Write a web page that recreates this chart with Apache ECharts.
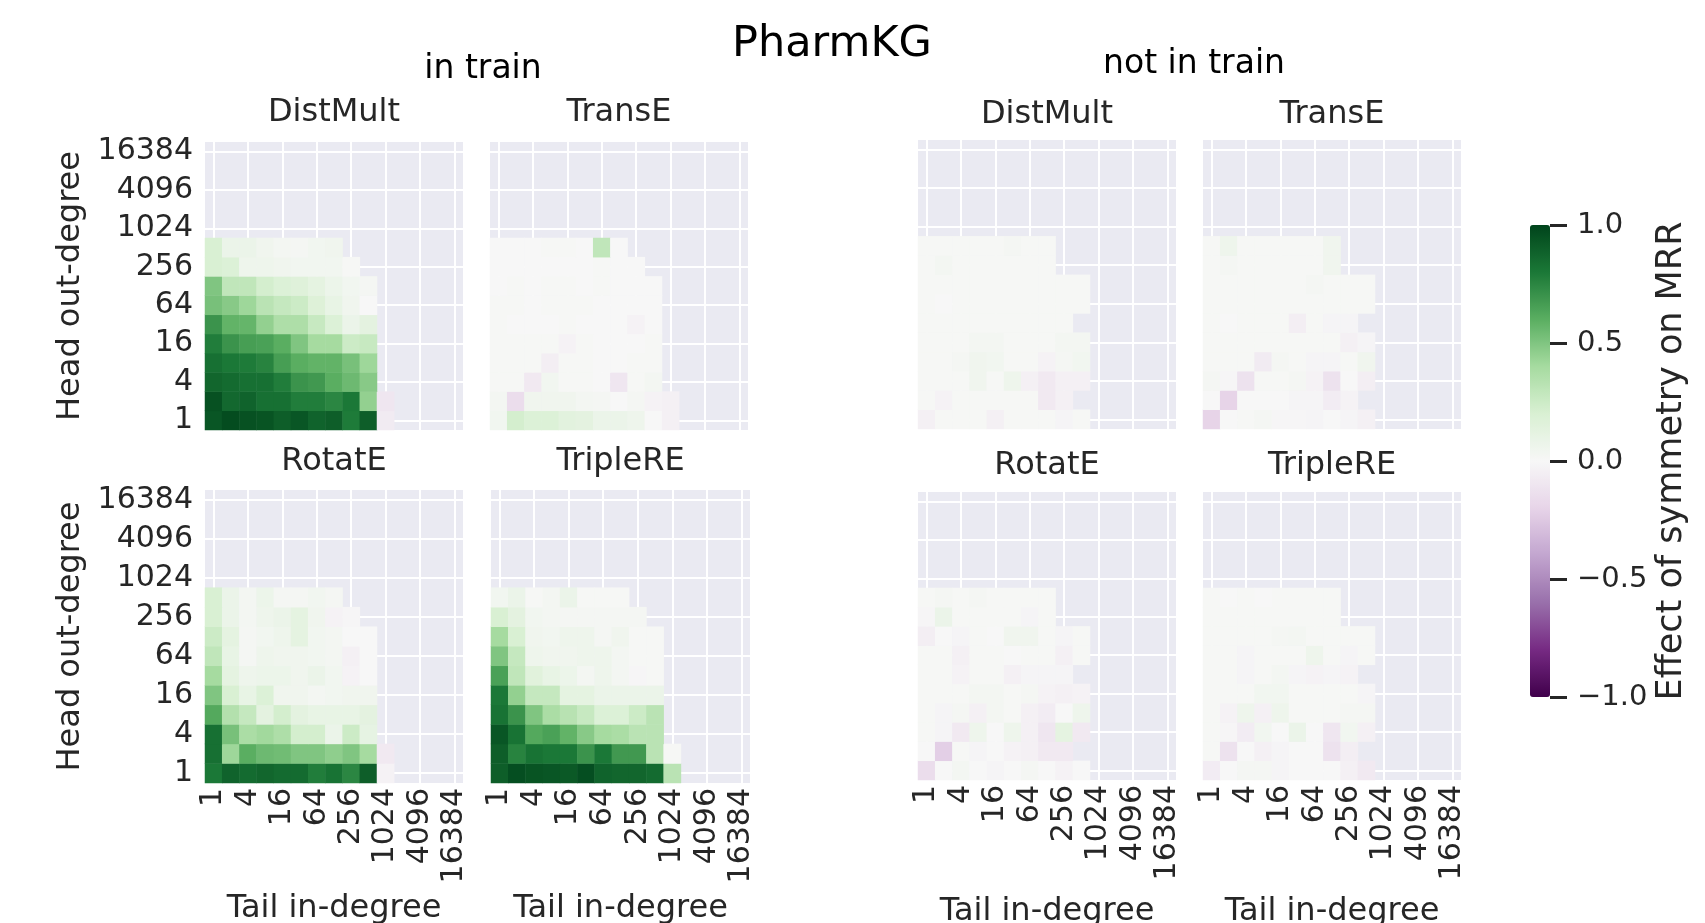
<!DOCTYPE html>
<html><head><meta charset="utf-8">
<script src="https://cdn.jsdelivr.net/npm/echarts@6/dist/echarts.min.js"></script>
<style>html,body{margin:0;padding:0;background:#fff}#c{width:1705px;height:923px}</style>
</head><body><div id="c"></div>
<script>
// ---------- data ----------
const degreeBins = ['1','2','4','8','16','32','64','128','256','512','1024','2048','4096','8192','16384'];
const modelNames = ['DistMult','TransE','RotatE','TripleRE'];
const groupNames = ['in train','not in train'];
const figureTitle = 'PharmKG';
const xAxisName = 'Tail in-degree';
const yAxisName = 'Head out-degree';
const colorbarName = 'Effect of symmetry on MRR';
const colorbarTicks = [-1, -0.5, 0, 0.5, 1];

// rows: head out-degree bin 0 (=1) upward; columns: tail in-degree bin 0 (=1) rightward; null = no data
const distmultIn = [
  [0.93,0.97,0.95,0.94,0.90,0.93,0.88,0.90,0.79,0.90,-0.07],
  [0.95,0.86,0.88,0.83,0.83,0.78,0.78,0.75,0.80,0.45,-0.10],
  [0.87,0.85,0.83,0.83,0.78,0.70,0.68,0.60,0.55,0.48,null],
  [0.83,0.80,0.79,0.76,0.66,0.60,0.58,0.58,0.52,0.42,null],
  [0.78,0.70,0.66,0.65,0.60,0.50,0.40,0.40,0.25,0.27,null],
  [0.70,0.58,0.57,0.45,0.37,0.37,0.27,0.18,0.08,0.13,null],
  [0.52,0.48,0.42,0.32,0.28,0.25,0.17,0.10,0.05,0.00,null],
  [0.50,0.30,0.30,0.22,0.18,0.16,0.12,0.07,0.04,0.02,null],
  [0.20,0.18,0.06,0.06,0.05,0.04,0.04,0.04,0.01,null,null],
  [0.20,0.08,0.08,0.05,0.03,0.02,0.04,0.05,null,null,null]
];
const transeIn = [
  [0.04,0.22,0.18,0.18,0.14,0.13,0.08,0.08,0.06,0.00,-0.04],
  [0.03,-0.15,0.05,0.05,0.05,0.03,0.02,0.00,0.02,-0.03,-0.04],
  [0.01,0.01,-0.08,0.04,0.01,0.01,0.00,-0.10,0.01,0.03,null],
  [0.01,0.01,0.01,-0.05,0.01,0.01,0.00,0.00,0.01,0.01,null],
  [0.01,0.01,0.01,0.01,-0.03,0.01,0.00,0.00,0.00,0.01,null],
  [0.01,0.00,0.00,0.00,0.01,0.00,0.00,0.00,-0.03,0.00,null],
  [0.01,0.01,0.00,0.01,0.01,0.01,0.00,0.00,0.00,0.00,null],
  [0.00,0.01,0.00,0.01,0.01,0.00,0.01,0.00,0.00,0.00,null],
  [0.00,0.00,0.00,0.00,0.00,0.00,0.01,0.00,0.00,null,null],
  [0.00,0.00,0.00,0.01,0.01,0.00,0.30,0.00,null,null,null]
];
const rotateIn = [
  [0.80,0.88,0.85,0.87,0.85,0.85,0.78,0.82,0.75,0.90,-0.03],
  [0.83,0.42,0.60,0.55,0.54,0.50,0.50,0.46,0.50,0.40,-0.08],
  [0.83,0.52,0.38,0.41,0.37,0.22,0.22,0.08,0.25,0.11,null],
  [0.62,0.35,0.28,0.13,0.22,0.13,0.10,0.10,0.10,0.13,null],
  [0.50,0.20,0.10,0.18,0.05,0.05,0.03,0.04,0.05,0.05,null],
  [0.40,0.12,0.06,0.07,0.07,0.05,0.08,0.04,-0.03,0.00,null],
  [0.30,0.10,0.02,0.06,0.05,0.05,0.04,0.03,-0.04,0.00,null],
  [0.25,0.12,0.02,0.04,0.06,0.12,0.04,0.03,0.00,0.00,null],
  [0.20,0.08,0.03,0.06,0.08,0.12,0.05,-0.03,-0.01,null,null],
  [0.20,0.08,0.03,0.07,0.02,0.02,0.04,0.02,null,null,null]
];
const tripleIn = [
  [0.90,0.96,0.94,0.93,0.92,0.96,0.88,0.87,0.87,0.85,0.32],
  [0.90,0.76,0.82,0.80,0.80,0.70,0.80,0.68,0.68,0.32,0.01],
  [0.93,0.82,0.62,0.65,0.58,0.48,0.40,0.38,0.32,0.32,null],
  [0.82,0.70,0.50,0.38,0.33,0.27,0.18,0.18,0.25,0.32,null],
  [0.80,0.45,0.28,0.28,0.12,0.12,0.08,0.08,0.08,0.08,null],
  [0.65,0.30,0.15,0.10,0.07,0.03,0.06,0.03,-0.01,0.01,null],
  [0.50,0.28,0.06,0.05,0.05,0.06,0.06,0.03,0.01,0.01,null],
  [0.40,0.20,0.05,0.04,0.06,0.06,0.02,0.05,0.01,0.01,null],
  [0.20,0.13,0.04,0.03,0.02,0.02,0.02,0.02,0.02,null,null],
  [0.04,0.08,0.01,0.03,0.08,0.01,0.01,0.01,null,null,null]
];
const distmultOut = [
  [-0.04,0.01,0.01,0.01,-0.04,0.01,0.01,0.01,-0.02,0.01,null],
  [0.01,-0.03,0.01,0.01,0.01,0.01,0.01,-0.08,-0.04,null,null],
  [0.01,0.01,0.01,0.05,0.01,0.06,-0.04,-0.08,-0.04,-0.04,null],
  [0.01,0.01,0.02,0.05,0.04,0.01,0.01,-0.03,0.02,0.04,null],
  [0.01,0.01,0.01,0.03,0.03,0.01,0.01,0.01,0.03,0.03,null],
  [0.01,0.01,0.01,0.01,0.01,0.01,0.01,0.01,0.01,null,null],
  [0.01,0.00,0.01,0.01,0.01,0.01,0.01,0.01,0.01,0.01,null],
  [0.01,0.01,0.01,0.01,0.01,0.01,0.01,0.01,0.01,0.01,null],
  [0.01,0.03,0.01,0.01,0.01,0.01,0.01,0.01,null,null,null],
  [0.01,0.01,0.01,0.01,0.01,0.02,0.01,0.01,null,null,null]
];
const transeOut = [
  [-0.20,0.00,0.01,0.02,-0.01,-0.01,-0.02,0.00,-0.02,-0.04,null],
  [0.00,-0.20,0.00,0.00,0.00,-0.02,-0.02,-0.06,-0.03,null,null],
  [0.02,-0.01,-0.12,0.01,0.01,0.02,-0.03,-0.12,0.00,-0.05,null],
  [0.01,0.01,0.01,-0.07,0.02,0.01,-0.02,-0.02,0.01,0.05,null],
  [0.01,0.01,0.01,0.01,0.01,0.01,0.01,0.01,-0.04,-0.02,null],
  [0.01,0.00,0.01,0.01,0.01,-0.05,0.01,-0.02,-0.02,null,null],
  [0.01,0.01,0.01,0.01,0.01,0.01,0.01,0.01,0.01,0.01,null],
  [0.01,0.01,0.01,0.01,0.01,0.01,0.02,0.01,0.01,0.01,null],
  [0.01,0.02,0.01,0.01,0.01,0.01,0.01,0.05,null,null,null],
  [0.01,0.06,0.01,0.01,0.01,0.01,0.01,0.05,null,null,null]
];
const rotateOut = [
  [-0.15,0.00,0.03,0.00,-0.02,0.00,0.02,0.00,-0.03,0.00,null],
  [0.00,-0.22,0.01,-0.02,0.00,-0.03,-0.04,-0.08,-0.08,null,null],
  [0.01,-0.02,-0.08,0.06,0.00,0.06,-0.04,-0.10,0.12,-0.08,null],
  [0.01,-0.02,0.02,-0.04,0.03,0.01,-0.04,-0.06,0.00,0.06,null],
  [0.01,0.01,0.01,0.03,0.03,0.01,0.02,-0.03,-0.04,-0.03,null],
  [0.01,0.01,-0.03,0.01,0.01,-0.04,-0.02,-0.02,-0.02,null,null],
  [0.01,0.01,-0.04,0.01,0.01,0.00,0.01,0.01,-0.04,0.01,null],
  [-0.05,0.00,-0.02,0.01,0.00,0.05,0.05,0.01,-0.02,0.01,null],
  [-0.01,0.08,0.01,0.01,0.01,0.01,-0.02,0.01,null,null,null],
  [0.01,0.02,0.01,0.02,0.01,0.01,0.01,0.01,null,null,null]
];
const tripleOut = [
  [-0.06,0.00,0.02,0.02,-0.02,0.00,0.00,0.00,-0.04,-0.08,null],
  [0.01,-0.12,0.00,-0.04,-0.02,0.00,0.00,-0.12,-0.05,null,null],
  [0.01,-0.01,-0.06,0.04,0.00,0.08,0.00,-0.10,0.04,-0.04,null],
  [0.01,-0.03,0.06,-0.04,0.06,0.01,0.01,0.01,0.02,0.02,null],
  [0.01,0.01,0.01,0.04,0.04,0.01,0.01,0.01,0.01,-0.02,null],
  [0.01,0.01,-0.02,0.01,0.03,-0.02,-0.03,-0.02,-0.03,null,null],
  [0.01,0.01,-0.02,0.01,0.01,0.01,0.06,0.01,-0.02,0.01,null],
  [0.01,0.01,0.01,0.01,0.02,0.03,0.01,0.01,0.01,0.01,null],
  [0.01,0.01,0.01,0.01,0.01,0.01,0.01,0.01,null,null,null],
  [0.01,0.00,0.01,0.00,0.01,0.01,0.01,0.01,null,null,null]
];

// ---------- styling / layout ----------
const PRGn = ['#40004b','#762a83','#9970ab','#c2a5cf','#e7d4e8','#f7f7f7','#d9f0d3','#a6dba0','#5aae61','#1b7837','#00441b'];
const FONT = 'DejaVu Sans';
const TXT = '#262626';
const panels = [
  {m: distmultIn,  t: 0, left: 205,  top: 142, w: 258, h: 288, yl: true,  xl: false, ty: 113, ny: 0},
  {m: transeIn,    t: 1, left: 490,  top: 142, w: 258, h: 288, yl: false, xl: false, ty: 113, ny: 0},
  {m: rotateIn,    t: 2, left: 205,  top: 490, w: 258, h: 293, yl: true,  xl: true,  ty: 462, ny: 893},
  {m: tripleIn,    t: 3, left: 491,  top: 490, w: 259, h: 293, yl: false, xl: true,  ty: 462, ny: 893},
  {m: distmultOut, t: 0, left: 918,  top: 140, w: 258, h: 289, yl: false, xl: false, ty: 115, ny: 0},
  {m: transeOut,   t: 1, left: 1203, top: 140, w: 258, h: 289, yl: false, xl: false, ty: 115, ny: 0},
  {m: rotateOut,   t: 2, left: 918,  top: 492, w: 258, h: 288, yl: false, xl: true,  ty: 466, ny: 896},
  {m: tripleOut,   t: 3, left: 1203, top: 492, w: 258, h: 288, yl: false, xl: true,  ty: 466, ny: 896}
];
const cb = {left: 1530, top: 225, w: 20, h: 472};

function cells(matrix) {
  const out = [];
  matrix.forEach((row, r) => row.forEach((v, c) => { if (v !== null) out.push([c, r, v]); }));
  return out;
}

const grid = [], xAxis = [], yAxis = [], series = [], graphic = [];
panels.forEach((p, i) => {
  grid.push({left: p.left, top: p.top, width: p.w, height: p.h, show: true,
    backgroundColor: '#eaeaf2', borderWidth: 0, containLabel: false, outerBoundsMode: 'none'});
  const split = {show: true, interval: 1, alignWithLabel: true, lineStyle: {color: '#ffffff', width: 2}};
  xAxis.push({gridIndex: i, type: 'category', data: degreeBins, boundaryGap: true,
    axisLine: {show: false}, axisTick: {show: false, alignWithLabel: true},
    axisLabel: {show: p.xl, interval: 1, rotate: 90, fontSize: 30, color: TXT, fontFamily: FONT, margin: 5},
    splitLine: split,
    name: p.xl ? xAxisName : '', nameLocation: 'middle', nameGap: p.xl ? p.ny - (p.top + p.h) : 0,
    nameTextStyle: {fontSize: 32, color: TXT, fontFamily: FONT}});
  yAxis.push({gridIndex: i, type: 'category', data: degreeBins, boundaryGap: true,
    axisLine: {show: false}, axisTick: {show: false, alignWithLabel: true},
    axisLabel: {show: p.yl, interval: 1, fontSize: 30, color: TXT, fontFamily: FONT, margin: 12, padding: [0, 0, 8, 0]},
    splitLine: split,
    name: p.yl ? yAxisName : '', nameLocation: 'middle', nameGap: 118,
    nameTextStyle: {fontSize: 32, color: TXT, fontFamily: FONT}});
  series.push({type: 'heatmap', xAxisIndex: i, yAxisIndex: i, data: cells(p.m),
    itemStyle: {borderWidth: 0}, emphasis: {disabled: true}, progressive: 0, silent: true});
  graphic.push({type: 'text', x: p.left + p.w / 2, y: p.ty,
    style: {text: modelNames[p.t], fontSize: 32, fontFamily: FONT, fill: TXT, align: 'center', verticalAlign: 'middle'}});
});

// colorbar axis (ticks + labels next to the visualMap gradient)
grid.push({left: cb.left, top: cb.top, width: cb.w, height: cb.h, show: false, outerBoundsMode: 'none', z: 10});
xAxis.push({gridIndex: 8, type: 'value', show: false, min: 0, max: 1});
yAxis.push({gridIndex: 8, type: 'value', position: 'right', z: 10,
  min: colorbarTicks[0], max: colorbarTicks[colorbarTicks.length - 1], interval: 0.5,
  axisLine: {show: true, onZero: false, lineStyle: {color: 'rgba(0,0,0,0)', width: 0}}, splitLine: {show: false},
  axisTick: {show: true, inside: false, length: 17, lineStyle: {color: TXT, width: 3}},
  axisLabel: {fontSize: 29, color: TXT, fontFamily: FONT, margin: 27,
    formatter: v => (v < 0 ? '\u2212' : '') + Math.abs(v).toFixed(1)}});

graphic.push({type: 'text', x: 832, y: 45, style: {text: figureTitle, fontSize: 43, fontFamily: FONT, fill: '#000', align: 'center', verticalAlign: 'middle'}});
graphic.push({type: 'text', x: 483, y: 69, style: {text: groupNames[0], fontSize: 33, fontFamily: FONT, fill: '#000', align: 'center', verticalAlign: 'middle'}});
graphic.push({type: 'text', x: 1194, y: 64, style: {text: groupNames[1], fontSize: 33, fontFamily: FONT, fill: '#000', align: 'center', verticalAlign: 'middle'}});
graphic.push({type: 'text', x: 1672, y: cb.top + cb.h / 2, rotation: Math.PI / 2,
  style: {text: colorbarName, fontSize: 35, fontFamily: FONT, fill: TXT, align: 'center', verticalAlign: 'middle'}});

const chart = echarts.init(document.getElementById('c'), null, {renderer: 'canvas'});
chart.setOption({
  animation: false,
  backgroundColor: '#ffffff',
  grid, xAxis, yAxis, series, graphic,
  visualMap: {type: 'continuous', min: -1, max: 1, seriesIndex: [0,1,2,3,4,5,6,7], dimension: 2,
    calculable: false, realtime: false, orient: 'vertical', left: cb.left, top: cb.top, z: 1,
    itemWidth: cb.w, itemHeight: cb.h, padding: 0, text: null, showLabel: false, hoverLink: false,
    inRange: {color: PRGn}}
});
</script></body></html>
